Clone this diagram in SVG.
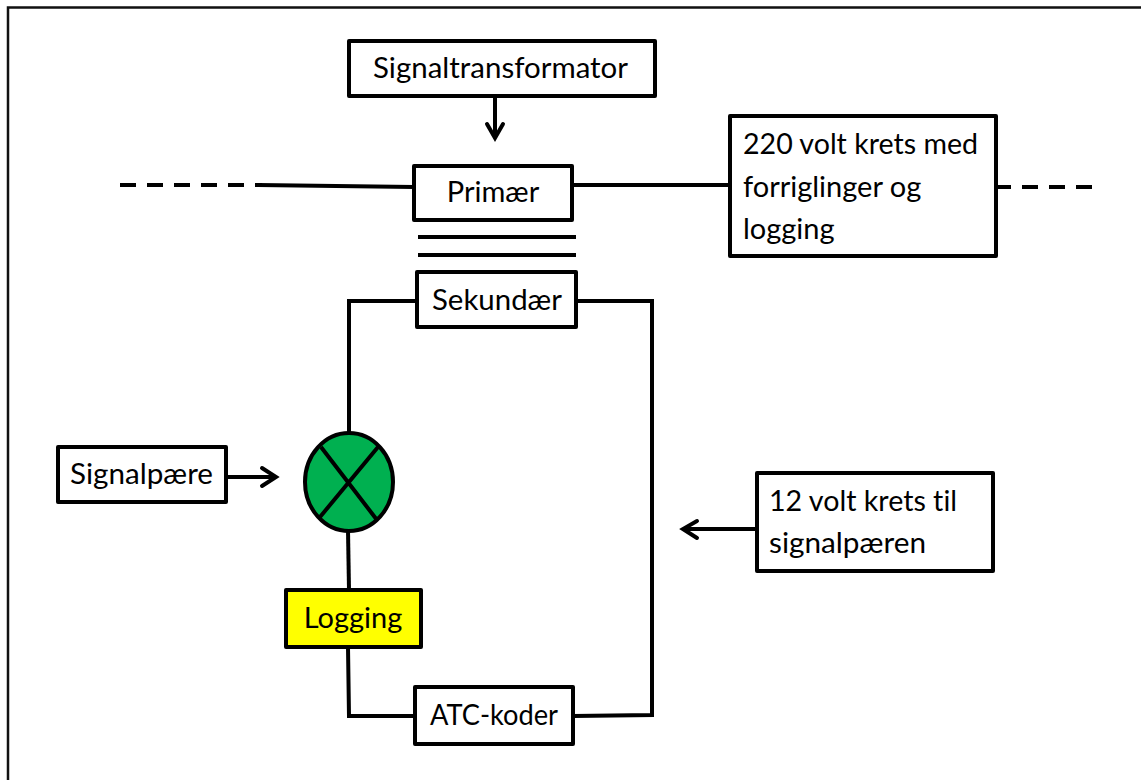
<svg xmlns="http://www.w3.org/2000/svg" width="1141" height="780" viewBox="0 0 1141 780">
<style>
.box{fill:#fff;stroke:#000;stroke-width:4;stroke-linejoin:round}
.wire{fill:none;stroke:#000;stroke-width:4}
.dash{fill:none;stroke:#000;stroke-width:4;stroke-dasharray:16 11}
.head{fill:none;stroke:#000;stroke-width:4;stroke-linecap:round}
text{font-family:"Lato","Liberation Sans",sans-serif;font-size:29px;fill:#000;font-variant-ligatures:none}
.c{text-anchor:middle}
</style>
<rect width="1141" height="780" fill="#fff"/>
<path d="M8 780V7.500H1141" fill="none" stroke="#111" stroke-width="2.500"/>
<g id="connectors">
<path class="dash" d="M120 185H262"/>
<path class="wire" d="M258 185L414 187"/>
<path class="wire" d="M572 185H730"/>
<path class="dash" d="M995 187H1093"/>
<path class="wire" d="M418 237H576M418 255H576"/>
<path class="wire" d="M417 301H349V433"/>
<path class="wire" d="M576 301H652V715L573 716"/>
<path class="wire" d="M348 530L349 590"/>
<path class="wire" d="M348 647L349 716H415"/>
<path class="wire" d="M495 96V137"/>
<path class="head" d="M487 124L495 138L503 124"/>
<path class="wire" d="M226 477H275"/>
<path class="head" d="M262 468L276 477L262 486"/>
<path class="wire" d="M757 529H684"/>
<path class="head" d="M697 521L683 529L697 538"/>
</g>
<g id="lamp">
<ellipse cx="349" cy="482" rx="44" ry="49" fill="#00b050" stroke="#000" stroke-width="4"/>
<path class="wire" d="M321 447L377 520M378 447L320 517"/>
</g>
<g id="signaltransformator"><rect class="box" x="349" y="41" width="306" height="55"/><text x="373" y="78" textLength="255" lengthAdjust="spacingAndGlyphs">Signaltransformator</text></g>
<g id="primaer"><rect class="box" x="414" y="166" width="158" height="54"/><text class="c" x="493" y="202">Primær</text></g>
<g id="sekundaer"><rect class="box" x="417" y="272" width="159" height="55"/><text x="432" y="310" textLength="130" lengthAdjust="spacingAndGlyphs">Sekundær</text></g>
<g id="krets220"><rect class="box" x="730" y="116" width="266" height="140"/><text x="743" y="154" textLength="235" lengthAdjust="spacingAndGlyphs">220 volt krets med</text><text x="743" y="197">forriglinger og</text><text x="743" y="239">logging</text></g>
<g id="signalpaere"><rect class="box" x="58" y="447" width="168" height="55"/><text x="70" y="484" textLength="143" lengthAdjust="spacingAndGlyphs">Signalpære</text></g>
<g id="logging"><rect class="box" x="286" y="590" width="135" height="57" style="fill:#ff0"/><text class="c" x="353" y="628">Logging</text></g>
<g id="atc"><rect class="box" x="415" y="687" width="158" height="57"/><text x="430" y="725" textLength="128" lengthAdjust="spacingAndGlyphs">ATC-koder</text></g>
<g id="krets12"><rect class="box" x="757" y="473" width="236" height="98"/><text x="769" y="511" textLength="188" lengthAdjust="spacingAndGlyphs">12 volt krets til</text><text x="769" y="553" textLength="157" lengthAdjust="spacingAndGlyphs">signalpæren</text></g>
</svg>
